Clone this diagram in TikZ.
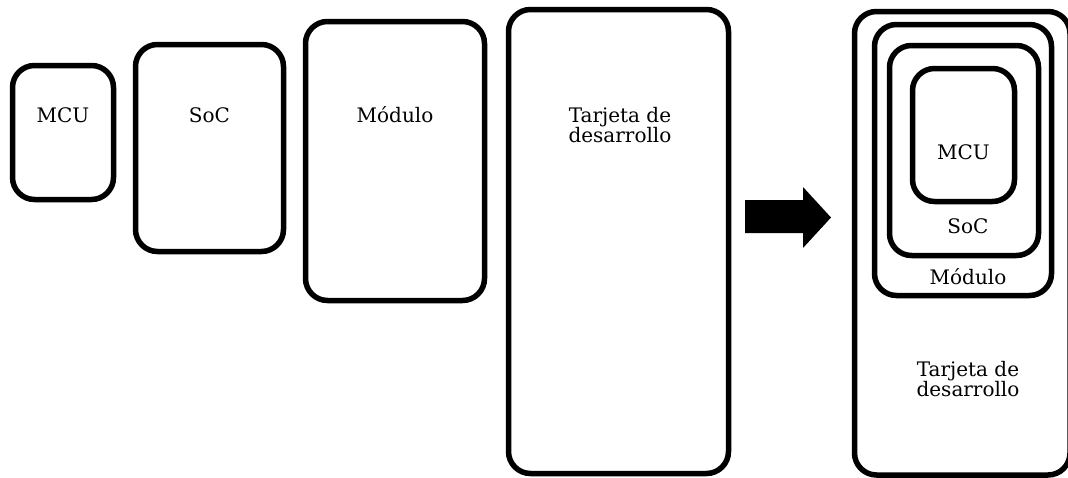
\documentclass[tikz,border=0pt]{standalone}
\usepackage{fontspec}
\setmainfont{DejaVu Serif}
\usetikzlibrary{positioning}

\begin{document}
\begin{tikzpicture}[
  x=1pt, y=-1pt,
  font=\fontsize{20}{20}\selectfont,
  blk/.style={draw, line width=5.5pt, rounded corners=22pt, inner sep=0pt},
  lbl/.style={align=center, inner sep=0pt, anchor=base}
]
\useasboundingbox (0,0) rectangle (1068,477);
% separate parts
\node[blk, minimum width=101pt, minimum height=134pt] (mcu) at (63,132.5) {};
\node[blk, minimum width=148pt, minimum height=207pt] (soc) at (209.5,148) {};
\node[blk, minimum width=179pt, minimum height=279pt] (mod) at (395,161) {};
\node[blk, minimum width=220pt, minimum height=464pt] (tar) at (618.5,241.5) {};
\node[lbl] (mcut) at (63,122) {MCU};
\node[lbl] (soct) at (209.5,122) {SoC};
\node[lbl] (modt) at (395,122) {Módulo};
\node[lbl] (tart) at (620,142) {Tarjeta de\\desarrollo};
% arrow
\fill (745,200) -- (803,200) -- (803,187) -- (831,217.5) -- (803,248) -- (803,233) -- (745,233) -- cycle;
% nested parts
\node[blk, minimum width=215.5pt, minimum height=463.5pt] (tar2) at (962.25,243.25) {};
\node[blk, minimum width=177pt, minimum height=271pt] (mod2) at (963,160) {};
\node[blk, minimum width=149pt, minimum height=210pt] (soc2) at (964,150.5) {};
\node[blk, minimum width=102pt, minimum height=133pt] (mcu2) at (963.5,135) {};
\node[lbl] (mcu2t) at (963.5,159) {MCU};
\node[lbl] (soc2t) at (968,233) {SoC};
\node[lbl] (mod2t) at (968,284) {Módulo};
\node[lbl] (tar2t) at (968,396) {Tarjeta de\\desarrollo};
\end{tikzpicture}
\end{document}
